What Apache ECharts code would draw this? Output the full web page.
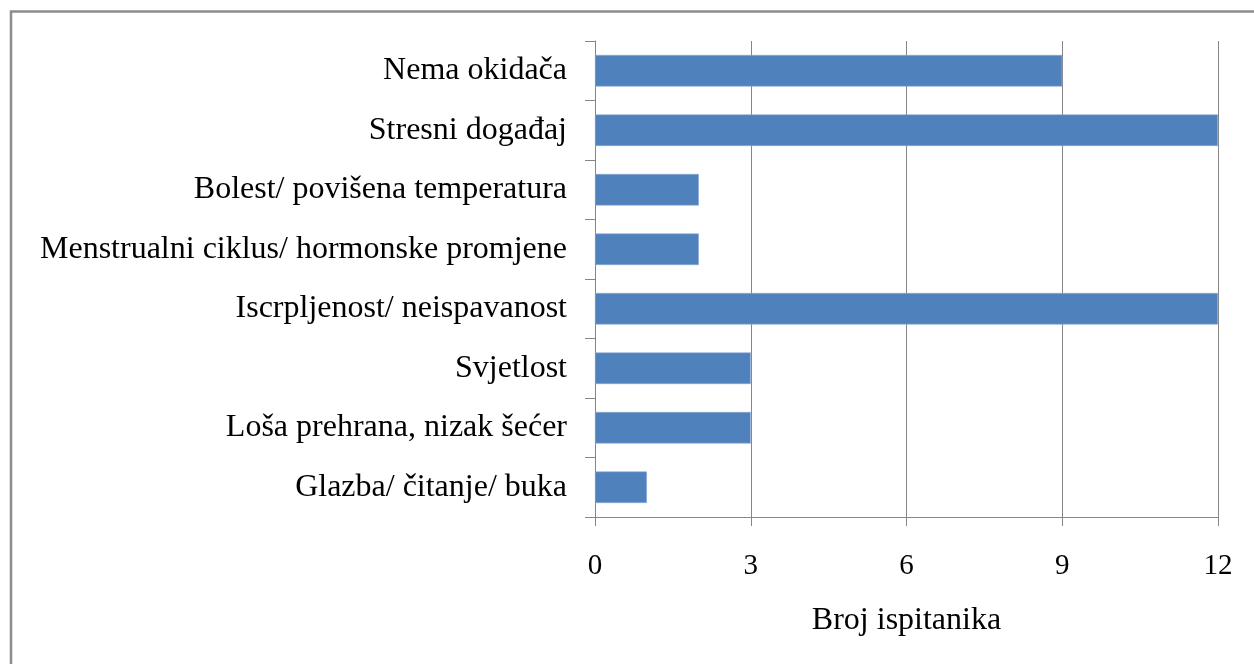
<!DOCTYPE html>
<html>
<head>
<meta charset="utf-8">
<script src="https://cdn.jsdelivr.net/npm/echarts@6/dist/echarts.min.js"></script>
<style>
html,body{margin:0;padding:0;background:#fff;}
#c{width:1254px;height:664px;}
</style>
</head>
<body>
<div id="c"></div>
<script>
const categories = [
  'Nema okidača',
  'Stresni događaj',
  'Bolest/ povišena temperatura',
  'Menstrualni ciklus/ hormonske promjene',
  'Iscrpljenost/ neispavanost',
  'Svjetlost',
  'Loša prehrana, nizak šećer',
  'Glazba/ čitanje/ buka'
];
const values = [9, 12, 2, 2, 12, 3, 3, 1];
const axisName = 'Broj ispitanika';

const chart = echarts.init(document.getElementById('c'));
const font = '"Liberation Serif", "Times New Roman", serif';
chart.setOption({
  animation: false,
  backgroundColor: '#fff',
  graphic: [{
    type: 'rect',
    shape: {x: 11, y: 11.5, width: 1400, height: 800},
    style: {fill: 'none', stroke: '#8c8c8c', lineWidth: 2.5},
    silent: true
  }],
  grid: {left: 595, right: 36, top: 41, bottom: 147, containLabel: false},
  xAxis: {
    type: 'value',
    min: 0, max: 12, interval: 3,
    name: axisName,
    nameLocation: 'middle',
    nameGap: 88,
    nameTextStyle: {fontFamily: font, fontSize: 32, color: '#000'},
    axisLine: {show: true, lineStyle: {color: '#868686', width: 1}},
    axisTick: {show: true, length: 9, lineStyle: {color: '#868686'}},
    axisLabel: {fontFamily: font, fontSize: 29, color: '#000', margin: 35},
    splitLine: {show: true, lineStyle: {color: '#868686', width: 1}}
  },
  yAxis: {
    type: 'category',
    data: categories,
    inverse: true,
    axisLine: {show: true, lineStyle: {color: '#868686', width: 1}},
    axisTick: {show: true, length: 10, lineStyle: {color: '#868686'}},
    axisLabel: {fontFamily: font, fontSize: 32, color: '#000', margin: 28},
    splitLine: {show: false}
  },
  series: [{
    type: 'bar',
    data: values,
    barCategoryGap: '47%',
    itemStyle: {color: '#4F81BD', borderColor: '#8eaad3', borderWidth: 0.6}
  }]
});
</script>
</body>
</html>
